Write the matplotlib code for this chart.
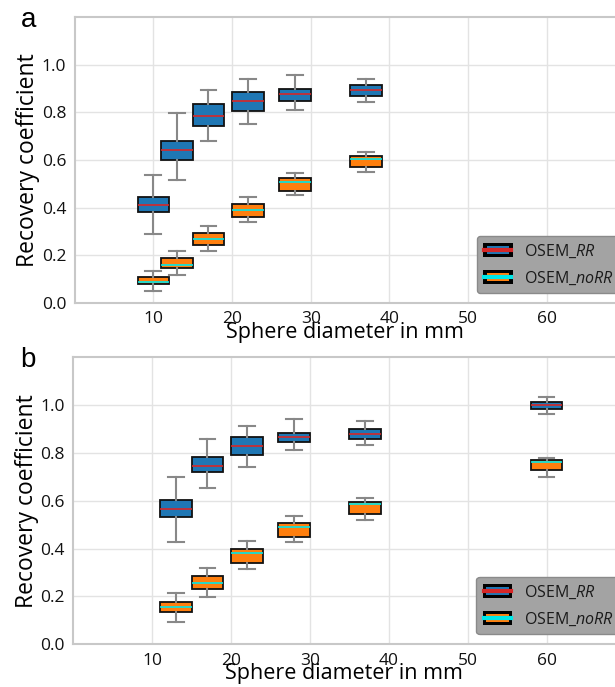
import matplotlib
matplotlib.use("Agg")
import matplotlib.pyplot as plt
from matplotlib.patches import Rectangle, Patch
from matplotlib.lines import Line2D
from matplotlib.legend_handler import HandlerBase

plt.rcParams['font.family'] = ['Open Sans', 'DejaVu Sans']
plt.rcParams['mathtext.fontset'] = 'custom'
plt.rcParams['mathtext.it'] = 'Open Sans:italic'
plt.rcParams['mathtext.rm'] = 'Open Sans'

# ---------------- data ----------------
diam_a = [10, 13, 17, 22, 28, 37]
diam_b = [13, 17, 22, 28, 37, 60]

# panel a, OSEM_RR : whislo, q1, median, q3, whishi
a_rr_lo  = [0.290, 0.516, 0.678, 0.751, 0.811, 0.842]
a_rr_q1  = [0.380, 0.600, 0.743, 0.807, 0.848, 0.869]
a_rr_med = [0.411, 0.643, 0.786, 0.849, 0.878, 0.892]
a_rr_q3  = [0.446, 0.681, 0.834, 0.884, 0.899, 0.913]
a_rr_hi  = [0.538, 0.797, 0.892, 0.940, 0.955, 0.940]

# panel a, OSEM_noRR
a_no_lo  = [0.049, 0.119, 0.220, 0.340, 0.452, 0.548]
a_no_q1  = [0.078, 0.145, 0.245, 0.361, 0.471, 0.571]
a_no_med = [0.090, 0.161, 0.269, 0.392, 0.508, 0.606]
a_no_q3  = [0.108, 0.187, 0.294, 0.414, 0.524, 0.617]
a_no_hi  = [0.136, 0.220, 0.324, 0.445, 0.545, 0.634]

# panel b, OSEM_RR
b_rr_lo  = [0.429, 0.654, 0.743, 0.811, 0.835, 0.961]
b_rr_q1  = [0.534, 0.719, 0.793, 0.844, 0.859, 0.982]
b_rr_med = [0.566, 0.746, 0.831, 0.865, 0.878, 0.999]
b_rr_q3  = [0.602, 0.784, 0.866, 0.885, 0.899, 1.014]
b_rr_hi  = [0.701, 0.858, 0.912, 0.944, 0.933, 1.034]

# panel b, OSEM_noRR
b_no_lo  = [0.094, 0.196, 0.314, 0.427, 0.520, 0.701]
b_no_q1  = [0.133, 0.230, 0.341, 0.448, 0.546, 0.729]
b_no_med = [0.156, 0.257, 0.380, 0.492, 0.587, 0.761]
b_no_q3  = [0.175, 0.284, 0.399, 0.507, 0.595, 0.770]
b_no_hi  = [0.214, 0.317, 0.430, 0.536, 0.613, 0.779]

x_ticks = [10, 20, 30, 40, 50, 60]
y_ticks = [0.0, 0.2, 0.4, 0.6, 0.8, 1.0]
series_labels = ['OSEM_$\\mathit{RR}$', 'OSEM_$\\mathit{noRR}$']
panel_labels = ['a', 'b']

BLUE = '#1f77b4'
ORANGE = '#ff7f0e'
RED = '#d62728'
CYAN = '#00e8e8'


def stats(lo, q1, med, q3, hi):
    return [dict(whislo=a, q1=b, med=c, q3=d, whishi=e, fliers=[])
            for a, b, c, d, e in zip(lo, q1, med, q3, hi)]


class BoxHandler(HandlerBase):
    def __init__(self, face, line):
        super().__init__()
        self.face = face
        self.line = line

    def create_artists(self, legend, orig_handle, xdescent, ydescent,
                       width, height, fontsize, trans):
        x0, y0 = -xdescent, -ydescent
        bg = Rectangle((x0, y0), width, height,
                       facecolor='black', edgecolor='none', transform=trans)
        inner = Rectangle((x0 + 0.12 * width, y0 + 0.2 * height),
                          0.76 * width, 0.6 * height, facecolor=self.face,
                          edgecolor='none', transform=trans)
        ln = Line2D([x0 + 0.04 * width, x0 + 0.96 * width],
                    [y0 + height / 2] * 2, color=self.line, lw=3,
                    transform=trans)
        return [bg, inner, ln]


fig = plt.figure(figsize=(6.15, 6.87), dpi=100)
ax_a = fig.add_axes([74.6 / 615, (687 - 303) / 687, 551 / 615, 286 / 687])
ax_b = fig.add_axes([73.4 / 615, (687 - 644.3) / 687, 552 / 615, 287 / 687])

panels = [
    (ax_a, diam_a, stats(a_rr_lo, a_rr_q1, a_rr_med, a_rr_q3, a_rr_hi),
     stats(a_no_lo, a_no_q1, a_no_med, a_no_q3, a_no_hi)),
    (ax_b, diam_b, stats(b_rr_lo, b_rr_q1, b_rr_med, b_rr_q3, b_rr_hi),
     stats(b_no_lo, b_no_q1, b_no_med, b_no_q3, b_no_hi)),
]

for i, (ax, diam, st_rr, st_no) in enumerate(panels):
    for st, face, med in [(st_rr, BLUE, RED), (st_no, ORANGE, CYAN)]:
        ax.bxp(st, positions=diam, widths=4, patch_artist=True,
               showfliers=False, manage_ticks=False,
               boxprops=dict(facecolor=face, edgecolor='#111111', lw=1.3),
               whiskerprops=dict(color='#888888', lw=1.5),
               capprops=dict(color='#888888', lw=1.5),
               medianprops=dict(color=med, lw=1.2), zorder=3)
    ax.set_xlim(0, 70)
    ax.set_ylim(0, 1.2)
    ax.set_xticks(x_ticks)
    ax.set_yticks(y_ticks)
    ax.set_yticklabels([f'{v:.1f}' for v in y_ticks])
    ax.tick_params(length=0, labelsize=12.5, colors='#111111', pad=6)
    ax.grid(True, color='#e3e3e3', lw=1)
    ax.set_axisbelow(True)
    for s in ax.spines.values():
        s.set_color('#c8c8c8')
        s.set_linewidth(1.5)
    ax.set_ylabel('Recovery coefficient', fontsize=16.5)
    ax.yaxis.set_label_coords(-0.062, 0.5)
    ax.set_xlabel('Sphere diameter in mm', fontsize=15.5)
    ax.xaxis.set_label_coords(0.49, -0.0664)
    ax.text(-0.097, 0.99, panel_labels[i], transform=ax.transAxes,
            fontsize=20, family='Liberation Sans', ha='left', va='center')
    h1, h2 = Patch(), Patch()
    leg = ax.legend([h1, h2], series_labels, loc='lower right',
                    bbox_to_anchor=(0.99, 0.035),
                    handler_map={h1: BoxHandler(BLUE, RED),
                                 h2: BoxHandler(ORANGE, CYAN)},
                    fontsize=11.5, fancybox=True, framealpha=1,
                    facecolor='#a3a3a3', edgecolor='#8a8a8a',
                    handlelength=1.85, handleheight=0.95, handletextpad=0.7,
                    borderaxespad=0, borderpad=0.4, labelspacing=0.6)
    for t in leg.get_texts():
        t.set_color('#1a1a1a')
    leg.set_zorder(5)

fig.savefig('out.png', dpi=100)
